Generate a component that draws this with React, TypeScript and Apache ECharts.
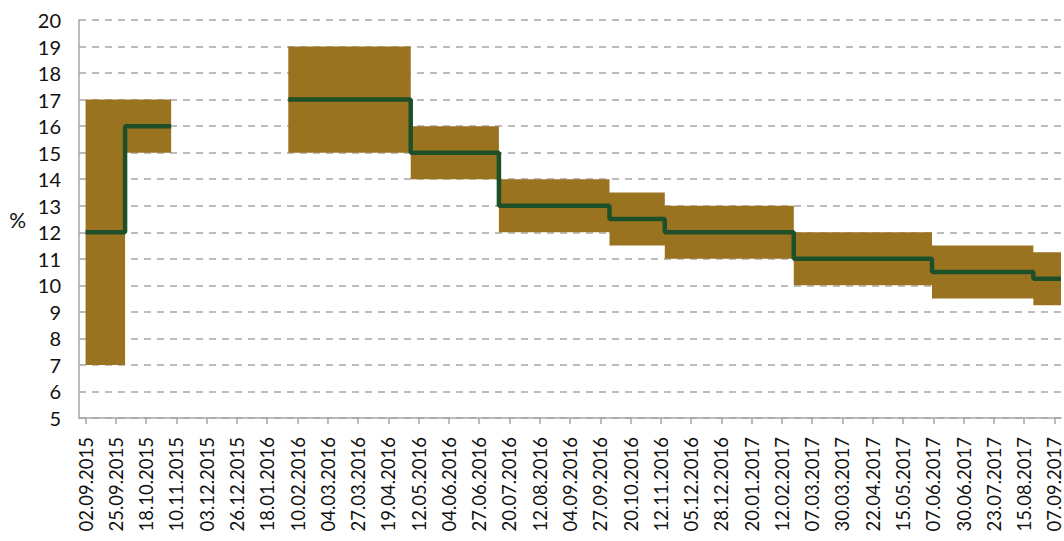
import React, { useEffect, useRef } from "react";
import * as echarts from "echarts";

// Axis range (daily category axis)
const axisStart = "28.08.2015";
const axisEnd = "12.09.2017";
const firstLabel = "02.09.2015";
const labelStepDays = 23;

// Segments of the key rate and its corridor
const segmentStarts = [
  "02.09.2015",
  "02.10.2015",
  "05.11.2015",
  "03.02.2016",
  "06.05.2016",
  "12.07.2016",
  "04.10.2016",
  "15.11.2016",
  "21.02.2017",
  "06.06.2017",
  "22.08.2017",
];
const segmentEnd = "12.09.2017";
const keyRate = [12, 16, null, 17, 15, 13, 12.5, 12, 11, 10.5, 10.25];
const corridorLow = [7, 15, null, 15, 14, 12, 11.5, 11, 10, 9.5, 9.25];
const corridorHigh = [17, 17, null, 19, 16, 14, 13.5, 13, 12, 11.5, 11.25];

// Y axis
const yMin = 5;
const yMax = 20;
const yStep = 1;

const DAY = 86400000;
function parseDate(s: string): number {
  const [d, m, y] = s.split(".").map(Number);
  return Date.UTC(y, m - 1, d);
}
function fmtDate(t: number): string {
  const dt = new Date(t);
  const d = String(dt.getUTCDate()).padStart(2, "0");
  const m = String(dt.getUTCMonth() + 1).padStart(2, "0");
  return `${d}.${m}.${dt.getUTCFullYear()}`;
}

function buildDaily(values: (number | null)[], times: number[]) {
  const starts = segmentStarts.map(parseDate);
  const end = parseDate(segmentEnd);
  return times.map((t) => {
    if (t < starts[0] || t > end) return null;
    let s = 0;
    for (let i = 0; i < starts.length; i++) if (starts[i] <= t) s = i;
    const v = values[s];
    if (v === null) {
      if (t === starts[s] && s > 0) return values[s - 1];
      return null;
    }
    return v;
  });
}

export default function App() {
  const ref = useRef<HTMLDivElement>(null);
  useEffect(() => {
    if (!ref.current) return;
    const chart = echarts.init(ref.current, null, { renderer: "svg" });
    const t0 = parseDate(axisStart);
    const t1 = parseDate(axisEnd);
    const times: number[] = [];
    for (let t = t0; t <= t1; t += DAY) times.push(t);
    const categories = times.map(fmtDate);
    const firstIdx = Math.round((parseDate(firstLabel) - t0) / DAY);
    const showAt = (i: number) => i >= firstIdx && (i - firstIdx) % labelStepDays === 0;

    const low = buildDaily(corridorLow, times);
    const high = buildDaily(corridorHigh, times);
    const rate = buildDaily(keyRate, times);
    const width = low.map((l, i) => (l === null || high[i] === null ? null : (high[i] as number) - l));

    chart.setOption({
      animation: false,
      grid: { left: 79, right: 3, top: 20, bottom: 123, containLabel: false },
      xAxis: {
        type: "category",
        data: categories,
        boundaryGap: false,
        axisLine: { show: true, lineStyle: { color: "#a6a6a6", width: 1.5 } },
        axisTick: {
          show: true,
          interval: (i: number) => showAt(i),
          length: 6,
          lineStyle: { color: "#a6a6a6", width: 1.5 },
        },
        axisLabel: {
          interval: (i: number) => showAt(i),
          rotate: 90,
          margin: 19,
          fontFamily: "Lato",
          fontSize: 18.5,
          color: "#111",
        },
        splitLine: { show: false },
      },
      yAxis: {
        type: "value",
        min: yMin,
        max: yMax,
        interval: yStep,
        name: "%",
        nameLocation: "middle",
        nameRotate: 0,
        nameGap: 53,
        nameTextStyle: { fontFamily: "Lato", fontSize: 21, color: "#111" },
        axisLine: { show: true, lineStyle: { color: "#a6a6a6", width: 1.5 } },
        axisTick: { show: false },
        axisLabel: { margin: 18, fontFamily: "Lato", fontSize: 20, color: "#111" },
        splitLine: { show: true, lineStyle: { color: "#a6a6a6", width: 1.5, type: [7, 6] } },
      },
      series: [
        {
          type: "line",
          data: low,
          stack: "corridor",
          step: "end",
          symbol: "none",
          lineStyle: { width: 0, opacity: 0 },
          silent: true,
        },
        {
          type: "line",
          data: width,
          stack: "corridor",
          step: "end",
          symbol: "none",
          lineStyle: { width: 0, opacity: 0 },
          areaStyle: { color: "#9a7320", opacity: 1 },
          silent: true,
        },
        {
          type: "line",
          data: rate,
          step: "end",
          symbol: "none",
          lineStyle: { color: "#1d5028", width: 4.5 },
          z: 5,
        },
      ],
    });
    return () => chart.dispose();
  }, []);
  return (
    <div
      ref={ref}
      style={{ position: "fixed", left: 0, top: 0, width: 1064, height: 541, background: "#fff" }}
    />
  );
}
